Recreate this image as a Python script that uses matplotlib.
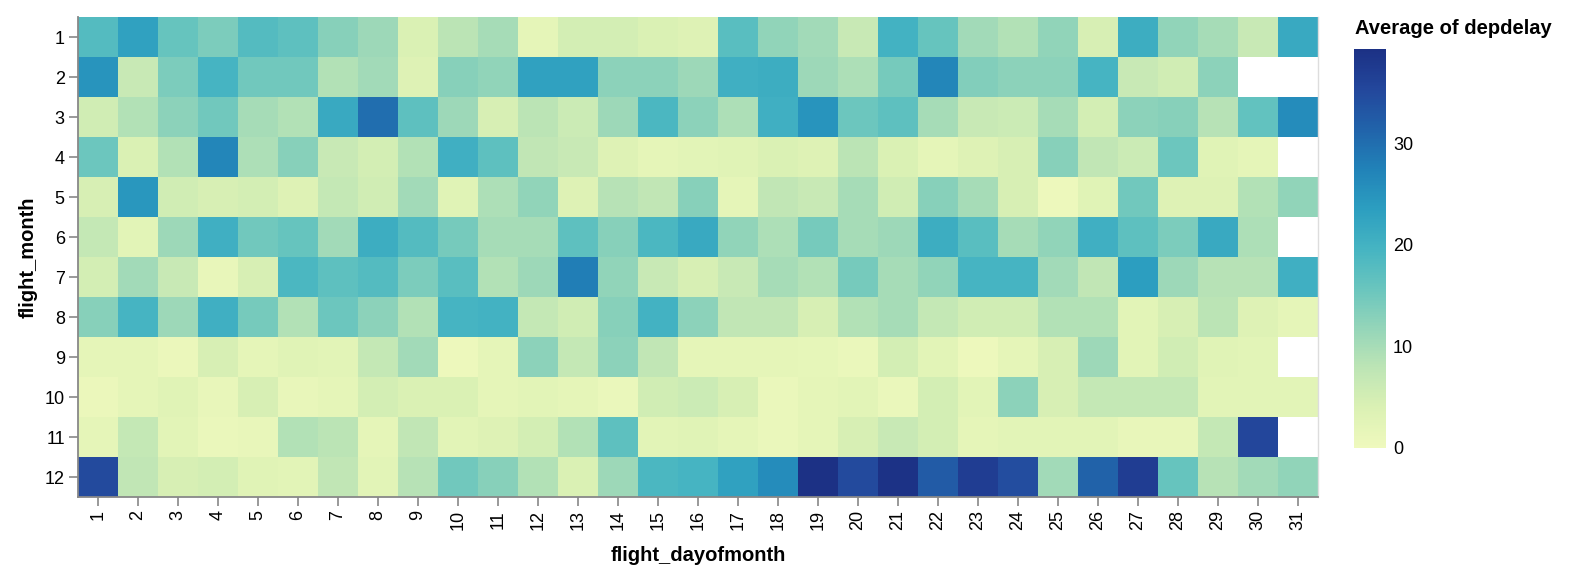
import matplotlib
matplotlib.use("Agg")
import matplotlib.pyplot as plt
import numpy as np
from matplotlib.colors import LinearSegmentedColormap

plt.rcParams["font.family"] = ["Liberation Sans", "DejaVu Sans"]

nan = np.nan

days = list(range(1, 32))
months = list(range(1, 13))

# average departure delay per month (rows) and day of month (columns)
m01 = [18, 23, 16, 14, 18, 17, 13, 11, 4, 8, 10, 2, 5, 5, 4, 3.5, 17.5, 12, 10.5, 6.5, 20, 16, 10.5, 9, 12, 4.5, 21, 12, 10, 6.5, 21.5]
m02 = [25, 6.5, 14, 19.5, 15, 15, 9, 10.5, 3.5, 13, 12, 23, 23, 12.5, 12.5, 11, 20.5, 21, 11, 9.5, 14.5, 27, 13.5, 12.5, 12.5, 19.5, 6.5, 5.5, 12.5, nan, nan]
m03 = [5.5, 9, 12.5, 15, 10, 9, 21.5, 30, 17, 11, 4.5, 8, 6, 11, 19, 12.5, 9.5, 20.5, 25, 15.5, 17, 10, 6.5, 6, 10, 5, 12.5, 13, 8.5, 16.5, 26]
m04 = [15.5, 4, 9, 27, 9.5, 13, 6.5, 5, 9, 20.5, 17, 7.5, 6.5, 3.5, 2, 2.5, 3, 4, 3.5, 8, 4, 2, 3.5, 4.5, 13, 7.5, 6, 15.5, 3, 2, nan]
m05 = [4.5, 24.5, 5.5, 4.5, 5, 3.5, 7, 5.5, 10.5, 3, 9.5, 12, 3.5, 8.5, 7.5, 13, 2, 7.5, 6.5, 10, 5.5, 13, 10, 4.5, 0.5, 3, 15, 3.5, 3.5, 9, 12]
m06 = [7, 2.5, 11, 20.5, 15, 16, 10.5, 21, 18, 14.5, 10, 10, 17, 13, 19, 21.5, 12, 9.5, 14.5, 10, 11, 21, 17.5, 10, 12, 20.5, 17, 14, 21.5, 9.5, nan]
m07 = [5, 10.5, 6.5, 1.5, 4.5, 19, 17, 18, 14, 17.5, 9, 11, 28, 12, 6.5, 4.5, 6.5, 10, 9, 14.5, 10, 12, 19.5, 19.5, 10.5, 7.5, 23.5, 11, 8.5, 8.5, 20.5]
m08 = [13, 19.5, 11, 20.5, 14.5, 9, 15.5, 12.5, 9, 19.5, 20, 7, 5.5, 13, 20, 12.5, 7.5, 7.5, 4.5, 9, 10, 7, 5.5, 5.5, 9, 9, 2.5, 4.5, 8, 3.5, 2]
m09 = [2, 2, 0.8, 4.5, 2, 3, 2.5, 7, 10.5, 0.5, 2, 12.5, 7, 12.5, 7.5, 2, 2, 2, 1.8, 1, 5, 2.5, 0.5, 2, 4.5, 11, 2.5, 5.5, 3, 2.5, nan]
m10 = [0.8, 2, 3, 1.5, 4.5, 1.5, 2, 5, 4, 4, 2, 2.5, 2, 1, 5.5, 6, 4.5, 1, 2, 2.5, 1, 5, 2.5, 12.5, 4.5, 7, 7, 7, 2.5, 2.5, 2.5]
m11 = [2, 7, 2.5, 1, 1.5, 9, 8, 2, 7.5, 2.5, 3.5, 5, 9, 17, 2.5, 3, 2, 1, 2, 4.5, 6.5, 5, 2, 2.5, 2.5, 2.5, 1.5, 1.5, 7, 35.5, nan]
m12 = [35, 7.5, 4.5, 5, 3, 2.5, 7.5, 2.5, 8.5, 15, 13, 9, 4, 11, 19, 19.5, 23, 26, 39.3, 35, 39, 32.5, 37, 34.5, 10.5, 31.5, 37, 16, 8.5, 10.5, 12]

# vega "yellowgreenblue" scheme
scheme = ["#eff9bd", "#dbf1b4", "#bde5b5", "#94d5b9", "#69c5be", "#45b4c2",
          "#2c9ec0", "#2182b8", "#2163aa", "#23479c", "#1c3185"]


def main():
    z = np.ma.masked_invalid(np.array([m01, m02, m03, m04, m05, m06,
                                       m07, m08, m09, m10, m11, m12]))
    cmap = LinearSegmentedColormap.from_list("ygb", scheme)

    W, H = 1586, 584
    fig = plt.figure(figsize=(W / 100, H / 100), dpi=100)
    ax = fig.add_axes([78 / W, (H - 497) / H, 1240 / W, 480 / H])

    x_edges = np.arange(0.5, len(days) + 1)
    y_edges = np.arange(0.5, len(months) + 1)
    mesh = ax.pcolormesh(x_edges, y_edges, z, cmap=cmap, vmin=0, vmax=np.nanmax(z))

    ax.set_xlim(0.5, 31.5)
    ax.set_ylim(12.5, 0.5)
    ax.set_xticks(days)
    ax.set_xticklabels([str(d) for d in days], rotation=90)
    ax.set_yticks(months)
    ax.set_yticklabels([str(m) for m in months])

    grey = "#888888"
    for side in ("left", "bottom"):
        ax.spines[side].set_color(grey)
        ax.spines[side].set_linewidth(1.3)
    ax.spines["top"].set_visible(False)
    ax.spines["right"].set_color("#dddddd")
    ax.spines["right"].set_linewidth(1)
    ax.tick_params(color=grey, length=6.5, width=1.2, labelsize=13, pad=3)

    ax.set_xlabel("flight_dayofmonth", fontsize=14.5, fontweight="bold", labelpad=11)
    ax.set_ylabel("flight_month", fontsize=14.5, fontweight="bold", labelpad=5)

    cax = fig.add_axes([1354 / W, (H - 448) / H, 32 / W, 399 / H])
    cbar = fig.colorbar(mesh, cax=cax)
    cbar.outline.set_visible(False)
    cbar.set_ticks([0, 10, 20, 30])
    cbar.ax.tick_params(length=0, labelsize=13, pad=5)

    fig.text(1355 / W, 1 - 28 / H, "Average of depdelay", fontsize=14.5,
             fontweight="bold", va="center", ha="left")

    fig.savefig("out.png", dpi=100)


if __name__ == "__main__":
    main()
